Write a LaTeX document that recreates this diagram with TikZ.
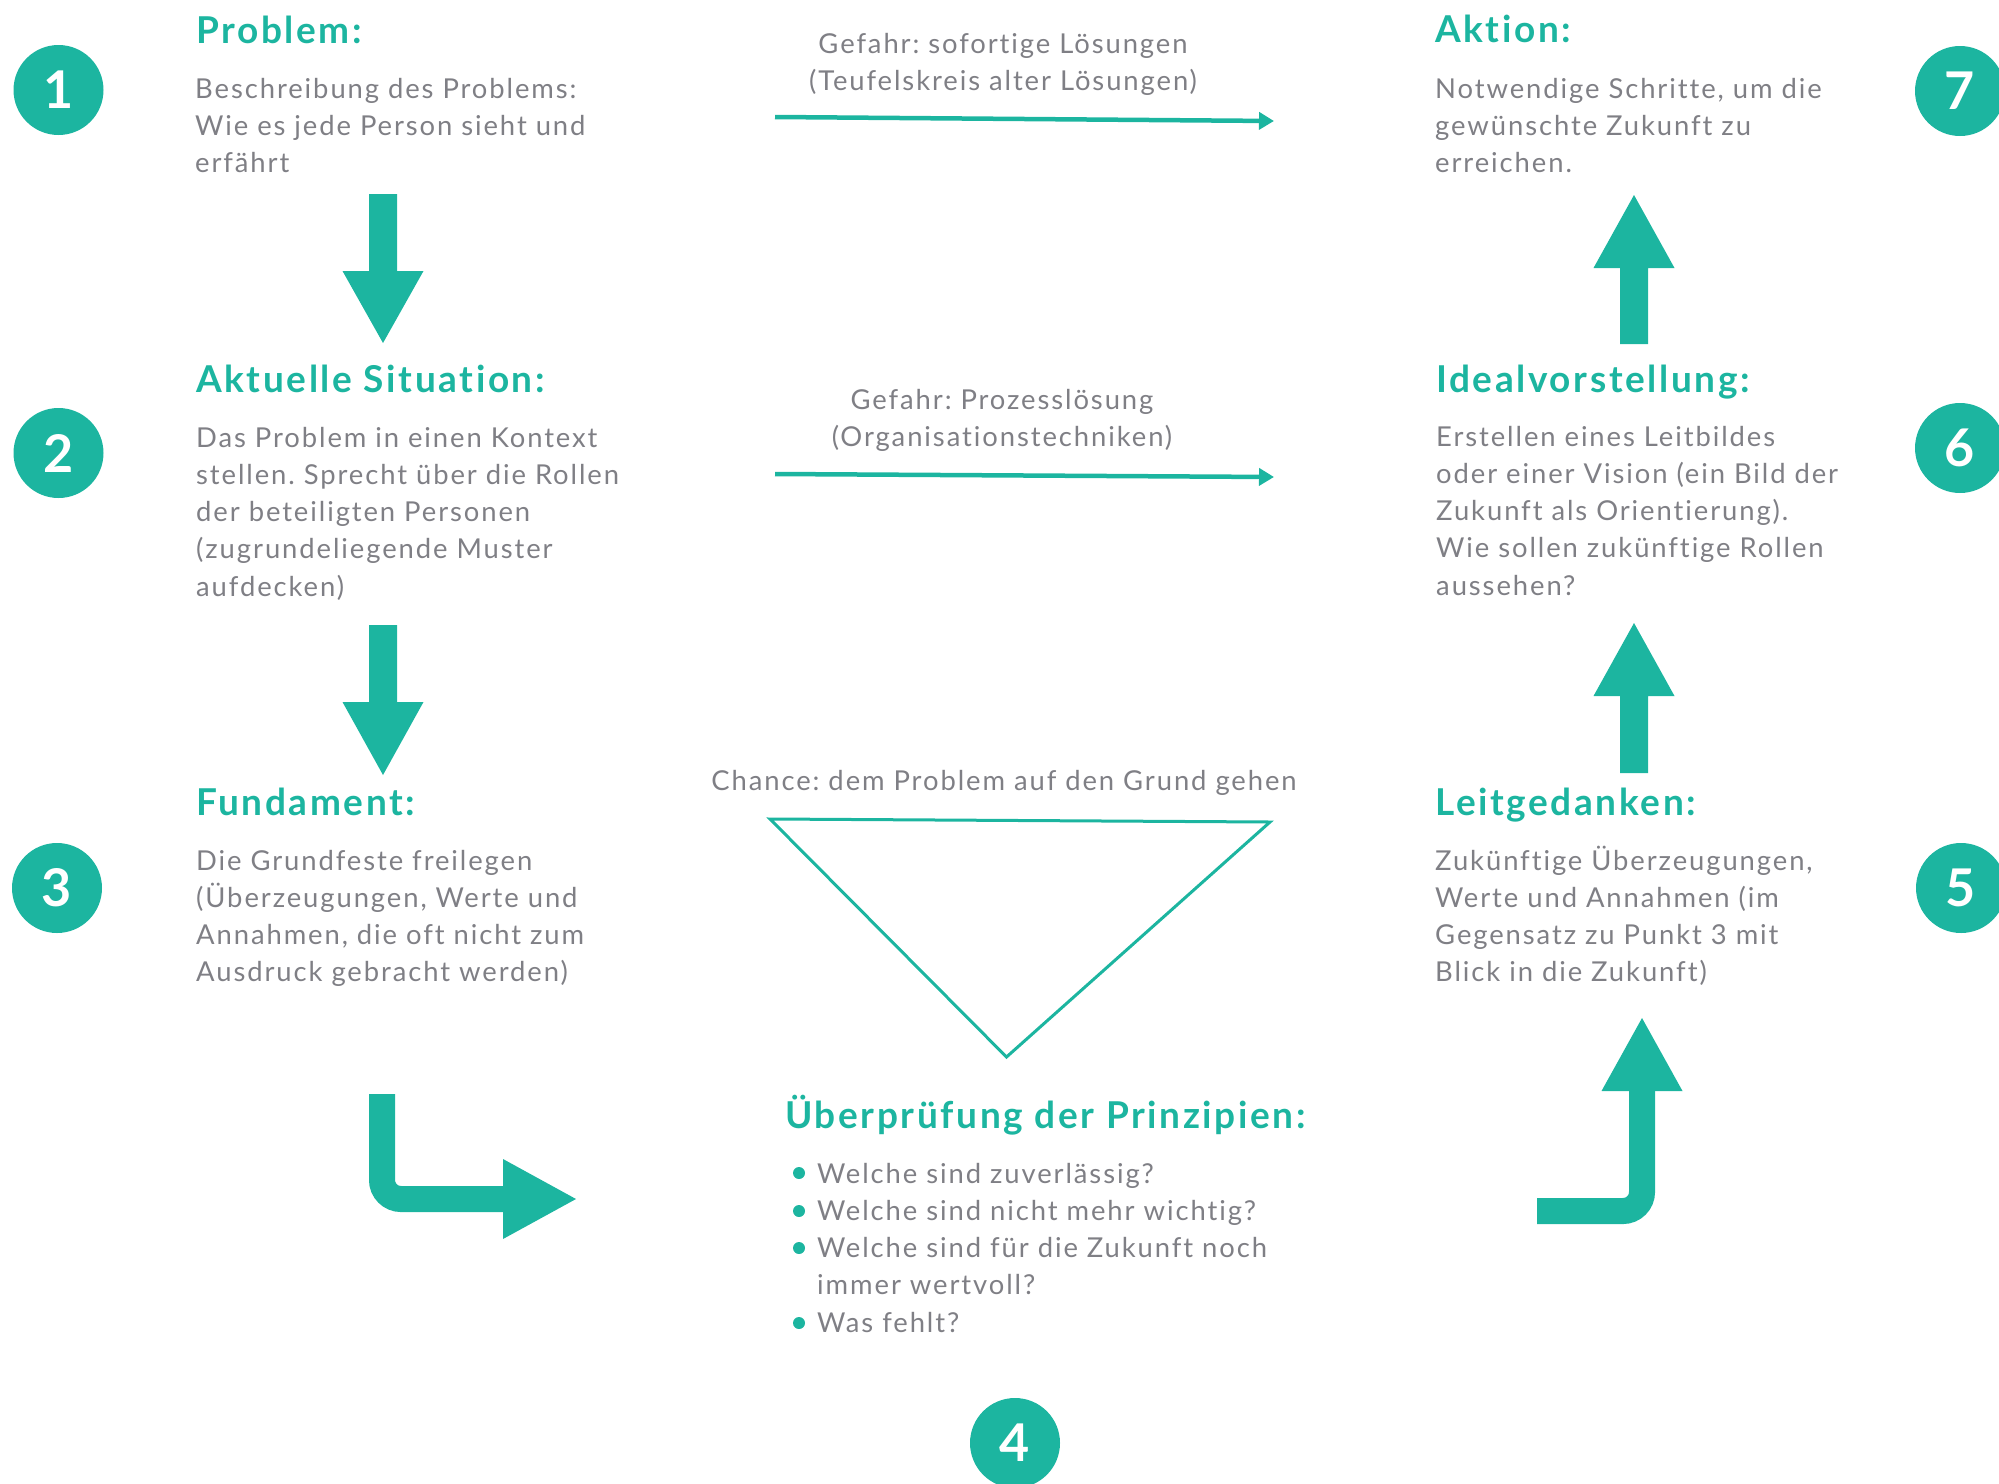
\documentclass[tikz,border=0pt]{standalone}
\usepackage{fontspec}
\setmainfont{Lato}[LetterSpace=7,Ligatures=NoCommon]
\usetikzlibrary{arrows.meta,calc}
\definecolor{teal1}{HTML}{1CB5A0}
\definecolor{txtgray}{HTML}{7F7F85}
\newcommand{\leftlines}[1]{\begin{tabular}[t]{@{}l@{}}#1\end{tabular}}
\newcommand{\centerlines}[1]{\begin{tabular}[t]{@{}c@{}}#1\end{tabular}}
\frenchspacing
\begin{document}
\begin{tikzpicture}[x=1pt,y=-1pt,
  num/.style={circle,fill=teal1,minimum size=90pt,inner sep=0pt,text=white,font=\fontsize{52}{52}\selectfont\bfseries},
  headtxt/.style={anchor=base west,inner sep=0pt,text=teal1,font=\fontsize{37}{40}\selectfont\bfseries},
  bodytxt/.style={anchor=base west,inner sep=0pt,text=txtgray,font=\fontsize{27.4}{37.3}\selectfont},
  midtxt/.style={anchor=base,inner sep=0pt,text=txtgray,font=\fontsize{27.4}{37.3}\selectfont},
  thinarrow/.style={draw=teal1,line width=4.5pt,-{Triangle[length=15pt,width=17pt]}},
  bentarrow/.style={draw=teal1,line width=26pt,rounded corners=19pt},
  bulletdot/.style={fill=teal1}
]
\useasboundingbox (0,0) rectangle (1999,1483);

% number circles
\node[num] (n1) at (58.5,90) {1};
\node[num] (n2) at (58.5,453) {2};
\node[num] (n3) at (57,888) {3};
\node[num] (n4) at (1015,1443) {4};
\node[num] (n5) at (1961,888) {5};
\node[num] (n6) at (1960,448) {6};
\node[num] (n7) at (1960,91) {7};

% left column
\node[headtxt] (h1) at (196,43) {Problem:};
\node[bodytxt] (t1) at (195,98) {\leftlines{Beschreibung des Problems:\\Wie es jede Person sieht und\\erfährt}};
\node[headtxt] (h2) at (196,392) {Aktuelle Situation:};
\node[bodytxt] (t2) at (196,447) {\leftlines{Das Problem in einen Kontext\\stellen. Sprecht über die Rollen\\der beteiligten Personen\\(zugrundeliegende Muster\\aufdecken)}};
\node[headtxt] (h3) at (196,815) {Fundament:};
\node[bodytxt] (t3) at (196,870) {\leftlines{Die Grundfeste freilegen\\(Überzeugungen, Werte und\\Annahmen, die oft nicht zum\\Ausdruck gebracht werden)}};

% right column
\node[headtxt] (h7) at (1435,42) {Aktion:};
\node[bodytxt] (t7) at (1435,98) {\leftlines{Notwendige Schritte, um die\\gewünschte Zukunft zu\\erreichen.}};
\node[headtxt] (h6) at (1436,392) {Idealvorstellung:};
\node[bodytxt] (t6) at (1436,446) {\leftlines{Erstellen eines Leitbildes\\oder einer Vision (ein Bild der\\Zukunft als Orientierung).\\Wie sollen zukünftige Rollen\\aussehen?}};
\node[headtxt] (h5) at (1435,815) {Leitgedanken:};
\node[bodytxt] (t5) at (1435,870) {\leftlines{Zukünftige Überzeugungen,\\Werte und Annahmen (im\\Gegensatz zu Punkt 3 mit\\Blick in die Zukunft)}};

% middle labels
\node[midtxt] (m1) at (1003,53) {\centerlines{Gefahr: sofortige Lösungen\\(Teufelskreis alter Lösungen)}};
\node[midtxt] (m2) at (1002,409) {\centerlines{Gefahr: Prozesslösung\\(Organisationstechniken)}};
\node[midtxt] (m3) at (1004,790) {Chance: dem Problem auf den Grund gehen};

% step 4
\node[headtxt] (h4) at (785,1128) {Überprüfung der Prinzipien:};
\node[bodytxt] (t4) at (817,1183) {\leftlines{Welche sind zuverlässig?\\Welche sind nicht mehr wichtig?\\Welche sind für die Zukunft noch\\immer wertvoll?\\Was fehlt?}};
\fill[bulletdot] (799,1173) circle (6pt);
\fill[bulletdot] (799,1211) circle (6pt);
\fill[bulletdot] (799,1248) circle (6pt);
\fill[bulletdot] (799,1323) circle (6pt);

% thin arrows
\coordinate (g1s) at (775,117);
\coordinate (g1e) at (1274,121);
\draw[thinarrow] (g1s) -- (g1e);
\coordinate (g2s) at (775,474);
\coordinate (g2e) at (1274,477);
\draw[thinarrow] (g2s) -- (g2e);

% triangle
\coordinate (tr1) at (770,819);
\coordinate (tr2) at (1270,822);
\coordinate (tr3) at (1006.5,1057);
\draw[teal1,line width=3pt,line join=miter] (tr1) -- (tr2) -- (tr3) -- cycle;

% block arrows down (left)
\coordinate (a12s) at (383,194);
\coordinate (a12e) at (383,343);
\fill[teal1] ($(a12s)+(-14,0)$) -- ($(a12s)+(14,0)$) -- ($(a12e)+(14,-72)$) -- ($(a12e)+(40.5,-72)$) -- (a12e) -- ($(a12e)+(-40.5,-72)$) -- ($(a12e)+(-14,-72)$) -- cycle;
\coordinate (a23s) at (383,625);
\coordinate (a23e) at (383,775);
\fill[teal1] ($(a23s)+(-14,0)$) -- ($(a23s)+(14,0)$) -- ($(a23e)+(14,-73)$) -- ($(a23e)+(40.5,-73)$) -- (a23e) -- ($(a23e)+(-40.5,-73)$) -- ($(a23e)+(-14,-73)$) -- cycle;

% block arrows up (right)
\coordinate (a56s) at (1634,773);
\coordinate (a56e) at (1634,623);
\fill[teal1] ($(a56s)+(-14,0)$) -- ($(a56s)+(14,0)$) -- ($(a56e)+(14,73)$) -- ($(a56e)+(40.5,73)$) -- (a56e) -- ($(a56e)+(-40.5,73)$) -- ($(a56e)+(-14,73)$) -- cycle;
\coordinate (a67s) at (1634,344);
\coordinate (a67e) at (1634,195);
\fill[teal1] ($(a67s)+(-14,0)$) -- ($(a67s)+(14,0)$) -- ($(a67e)+(14,73)$) -- ($(a67e)+(40.5,73)$) -- (a67e) -- ($(a67e)+(-40.5,73)$) -- ($(a67e)+(-14,73)$) -- cycle;

% bent arrow left
\coordinate (bl0) at (382,1094);
\coordinate (bl1) at (576,1199);
\draw[bentarrow] (bl0) -- (bl0 |- bl1) -- ($(bl1)+(-70,0)$);
\fill[teal1] ($(bl1)+(-73,-40)$) -- (bl1) -- ($(bl1)+(-73,40)$) -- cycle;

% bent arrow right
\coordinate (br0) at (1537,1211);
\coordinate (br1) at (1642,1018);
\draw[bentarrow] (br0) -- (br1 |- br0) -- ($(br1)+(0,71)$);
\fill[teal1] ($(br1)+(-40.5,73)$) -- (br1) -- ($(br1)+(40.5,73)$) -- cycle;
\end{tikzpicture}
\end{document}
